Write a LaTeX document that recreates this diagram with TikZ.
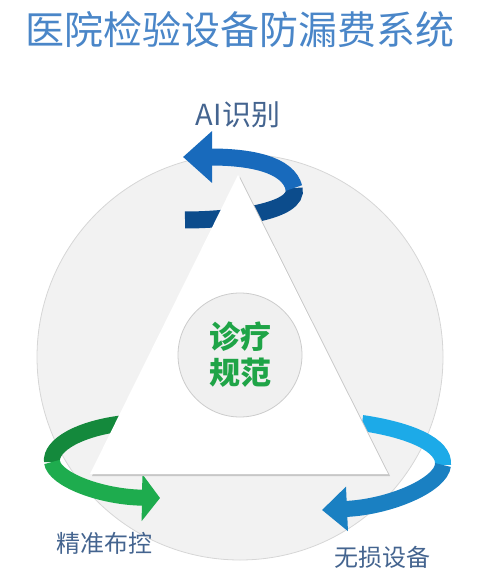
\documentclass[tikz,border=0pt]{standalone}
\usepackage{fontspec}
\setmainfont{Noto Sans CJK SC}
\usetikzlibrary{arrows.meta}
\definecolor{titleblue}{HTML}{4A86C8}
\definecolor{labelblue}{HTML}{44648F}
\definecolor{hubgreen}{HTML}{1FA447}
\begin{document}
\begin{tikzpicture}[x=0.5pt, y=-0.5pt,
    ring/.style={line width=8.5pt, line cap=butt},
    tag/.style={text=labelblue, inner sep=0pt},
    hub/.style={circle, draw=black!20, fill=black!6, minimum size=62pt, inner sep=0pt,
        align=center, text=hubgreen, font=\fontsize{15.5}{18}\selectfont\bfseries}]
    \useasboundingbox (0,0) rectangle (480,582);

    \node[text=titleblue, font=\fontsize{19.5}{22}\selectfont] (title) at (240,30) {医院检验设备防漏费系统};

    % back disc
    \draw[black!16, fill=black!5] (240,357) circle[radius=203];

    % rotating arrows
    \draw[ring, color={rgb,255:red,12;green,76;blue,140}] (185,220) .. controls (230,220) and (300,212) .. (294,188);
    \draw[ring, color={rgb,255:red,24;green,106;blue,188}, -{Triangle[length=14.5pt, width=25pt]}]
        (294,188) .. controls (288,164) and (250,157) .. (183,157);

    \draw[ring, line width=8pt, color={rgb,255:red,20;green,137;blue,60}] (125,423) .. controls (80,428) and (50,445) .. (52,462);
    \draw[ring, line width=8pt, color={rgb,255:red,30;green,172;blue,78}, -{Triangle[length=9pt, width=23pt]}]
        (52,462) .. controls (54,479) and (100,497) .. (160,498);

    \draw[ring, line width=8pt, color={rgb,255:red,28;green,170;blue,232}] (362,423) .. controls (410,430) and (445,445) .. (443,465);
    \draw[ring, line width=8pt, color={rgb,255:red,26;green,128;blue,194}, -{Triangle[length=12.5pt, width=21.5pt]}]
        (443,465) .. controls (441,485) and (390,507) .. (322,510);

    % triangle
    \coordinate (apex) at (238,175);
    \coordinate (left) at (90,474);
    \coordinate (right) at (388,474);
    \fill[black!22] ([shift={(2,2)}]apex) -- ([shift={(2,2)}]left) -- ([shift={(2,2)}]right) -- cycle;
    \fill[white] (apex) -- (left) -- (right) -- cycle;

    \node[hub] (core) at (240,355) {诊疗\\规范};

    \node[tag, font=\fontsize{14.5}{17}\selectfont] (ai) at (238,115) {AI识别};
    \node[tag, font=\fontsize{12}{14}\selectfont] (ctrl) at (104,543) {精准布控};
    \node[tag, font=\fontsize{12}{14}\selectfont] (safe) at (382,557) {无损设备};
\end{tikzpicture}
\end{document}
